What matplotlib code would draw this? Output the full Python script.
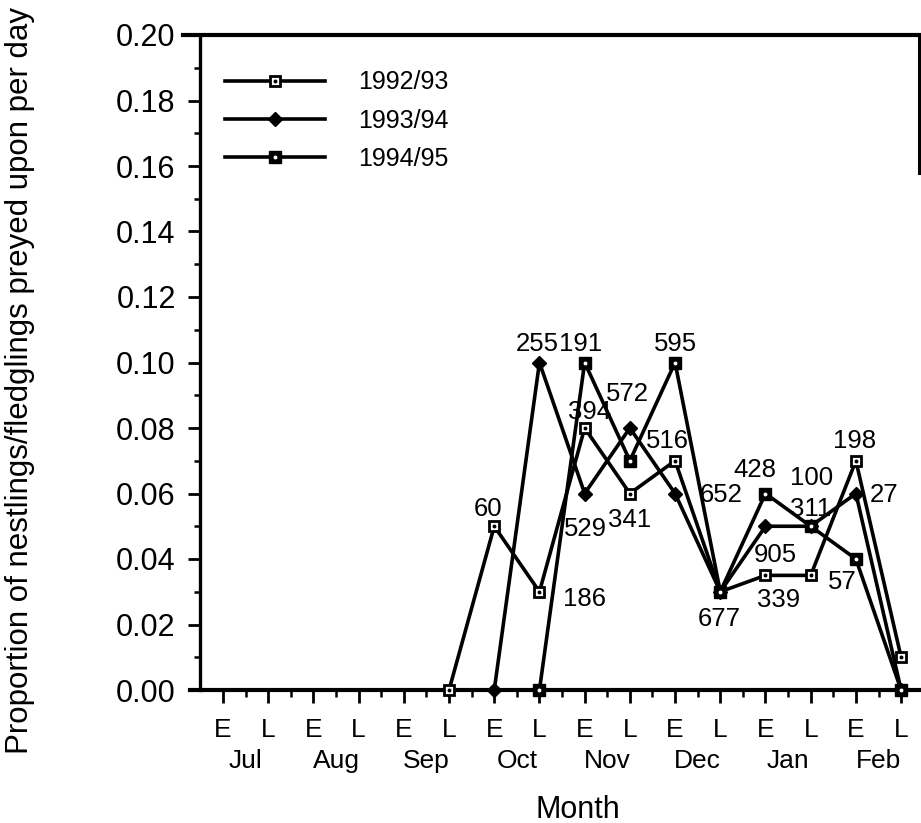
import numpy as np
import matplotlib
matplotlib.use("Agg")
import matplotlib.pyplot as plt

plt.rcParams['font.family'] = ['Liberation Sans', 'DejaVu Sans']

periods = ['E', 'L'] * 8
months = ['Jul', 'Aug', 'Sep', 'Oct', 'Nov', 'Dec', 'Jan', 'Feb']

# half-month index: 0 = early Jul ... 15 = late Feb
x_9293 = [5, 6, 7, 8, 9, 10, 11, 12, 13, 14, 15]
y_9293 = [0.00, 0.05, 0.03, 0.08, 0.06, 0.07, 0.03, 0.035, 0.035, 0.07, 0.01]

x_9394 = [6, 7, 8, 9, 10, 11, 12, 13, 14, 15]
y_9394 = [0.00, 0.10, 0.06, 0.08, 0.06, 0.03, 0.05, 0.05, 0.06, 0.00]

x_9495 = [7, 8, 9, 10, 11, 12, 13, 14, 15]
y_9495 = [0.00, 0.10, 0.07, 0.10, 0.03, 0.06, 0.05, 0.04, 0.00]

# sample sizes written beside the points
n_text = ['60', '186', '255', '191', '595', '572', '394', '516', '529', '341',
          '652', '677', '428', '100', '311', '905', '339', '198', '27', '57']
n_x = [5.86, 7.99, 6.95, 7.90, 10.0, 8.95, 8.10, 9.82, 8.01, 9.00,
       11.02, 10.97, 11.77, 13.03, 12.99, 12.21, 12.28, 13.98, 14.62, 13.69]
n_y = [0.0559, 0.0284, 0.1063, 0.1063, 0.1063, 0.0910, 0.0858, 0.0769, 0.0498, 0.0528,
       0.0602, 0.0223, 0.0678, 0.0656, 0.0559, 0.0421, 0.0281, 0.0769, 0.0602, 0.0336]

fig = plt.figure(figsize=(9.21, 8.23), dpi=100)
ax = fig.add_axes([200 / 921, 133 / 823, 721 / 921, 655 / 823])
ax.set_xlim(-0.509, 15.44)
ax.set_ylim(0, 0.2)

lw = 2.6
l1, = ax.plot(x_9293, y_9293, color='k', lw=lw, marker='s', ms=7.5, mfc='white',
              mec='k', mew=2, clip_on=False, zorder=3)
d1, = ax.plot(x_9293, y_9293, ls='none', marker='o', ms=1.8, color='k', clip_on=False, zorder=4)
l2, = ax.plot(x_9394, y_9394, color='k', lw=lw, marker='D', ms=6.8, mfc='k',
              mec='k', mew=1, clip_on=False, zorder=3)
l3, = ax.plot(x_9495, y_9495, color='k', lw=lw, marker='s', ms=8.5, mfc='k',
              mec='k', mew=1, clip_on=False, zorder=3)
d3, = ax.plot(x_9495, y_9495, ls='none', marker='o', ms=1.8, color='white', clip_on=False, zorder=4)

for t, x, y in zip(n_text, n_x, n_y):
    ax.text(x, y, t, fontsize=18.5, ha='center', va='center_baseline', zorder=5)

ax.legend([(l1, d1), l2, (l3, d3)], ['1992/93', '1993/94', '1994/95'],
          loc='upper left', bbox_to_anchor=(0.035, 0.946), frameon=False,
          fontsize=18, handlelength=4, handletextpad=1.3, labelspacing=0.57,
          borderpad=0, borderaxespad=0, numpoints=1)

# axes frame
ax.spines['left'].set_linewidth(2.4)
ax.spines['bottom'].set_linewidth(3)
ax.spines['bottom'].set_bounds(-0.73, 15.44)
ax.spines['top'].set_linewidth(3)
ax.spines['top'].set_bounds(-0.88, 15.44)
ax.spines['right'].set_linewidth(2.2)
ax.spines['right'].set_position(('data', 15.40))
ax.spines['right'].set_bounds(0.158, 0.2)

ax.set_yticks(np.arange(0, 0.201, 0.02))
ax.set_yticklabels(['%.2f' % v for v in np.arange(0, 0.201, 0.02)])
ax.set_yticks(np.arange(0.01, 0.2, 0.02), minor=True)
ax.tick_params(axis='y', which='major', length=9, width=2, pad=8.5, labelsize=22)
ax.tick_params(axis='y', which='minor', length=4, width=1.8)

ax.set_xticks(range(16))
ax.set_xticklabels(periods)
ax.set_xticks(np.arange(0.5, 15, 1), minor=True)
ax.set_xticklabels([months[i // 2] if i % 2 == 0 else '' for i in range(15)], minor=True)
ax.tick_params(axis='x', which='major', length=9.5, width=2, pad=10.5, labelsize=19)
ax.tick_params(axis='x', which='minor', length=5, width=1.8, pad=37.5, labelsize=19)

ax.set_xlabel('Month', fontsize=22)
ax.xaxis.set_label_coords(0.5236, -0.160)

fig.text(20 / 921, 1 - 380 / 823, 'Proportion of nestlings/fledglings preyed upon per day',
         rotation=90, fontsize=22.5, ha='center', va='center')

fig.savefig('out.png', dpi=100)
